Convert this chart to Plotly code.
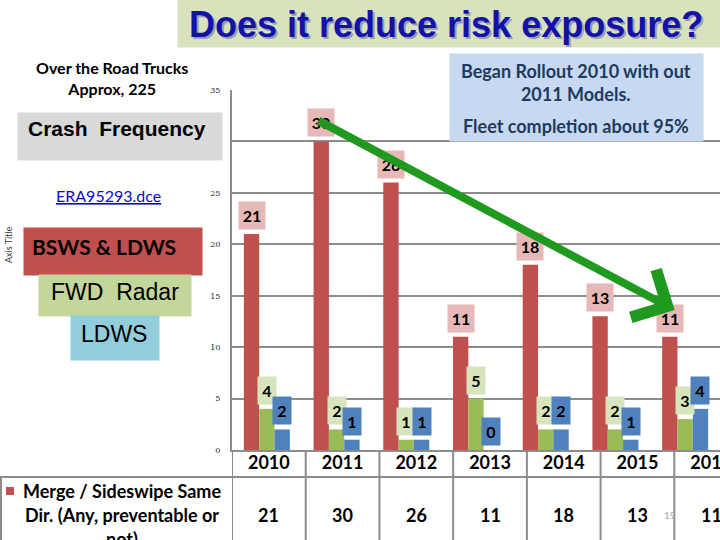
import plotly.graph_objects as go

# ---------------- data ----------------
years = ["2010", "2011", "2012", "2013", "2014", "2015", "2016"]
merge_sideswipe = [21, 30, 26, 11, 18, 13, 11]
fwd_radar = [4, 2, 1, 5, 2, 2, 3]
ldws = [2, 1, 1, 0, 2, 1, 4]
ytick_vals = [0, 5, 10, 15, 20, 25, 30, 35]
row_label_lines = ["Merge / Sideswipe Same", "Dir. (Any, preventable or", "not)"]

# ---------------- style ----------------
RED, GREEN, BLUE = "#c0504d", "#9bbb59", "#4f81bd"
RED_LBL, GREEN_LBL, BLUE_LBL = "#e6b9b8", "#d7e4bd", "#4f81bd"
GRID = "#8c8c8c"
CAL = "Lato, Carlito, sans-serif"
ARIAL = "Liberation Sans, Arial, sans-serif"

L, T, W, H = 232, 90, 488, 360          # plot area in pixels
YMAX = 35
def fx(p):
    return (p - L) / W
def fy(p):
    return (T + H - p) / H

BARGAP = 0.34
bw = (1 - BARGAP) / 3

fig = go.Figure()
series = [
    (merge_sideswipe, RED, RED_LBL, "Merge / Sideswipe Same Dir. (Any, preventable or not)"),
    (fwd_radar, GREEN, GREEN_LBL, "FWD Radar"),
    (ldws, BLUE, BLUE_LBL, "LDWS"),
]
for vals, col, _, name in series:
    fig.add_trace(go.Bar(x=years, y=vals, name=name, marker=dict(color=col, line=dict(width=0)),
                         hoverinfo="x+y"))

# carrier trace for the data-table category axis (invisible)
fig.add_trace(go.Scatter(x=years, y=merge_sideswipe, mode="markers", xaxis="x2", yaxis="y",
                         marker=dict(opacity=0), hoverinfo="skip", showlegend=False))

ann = []
shapes = []

def pa(x, y, text, **kw):
    d = dict(x=fx(x), y=fy(y), xref="paper", yref="paper", xanchor="center", yanchor="middle",
             text=text, showarrow=False)
    d.update(kw)
    ann.append(d)

# value labels with coloured boxes
for s, (vals, col, lbl, name) in enumerate(series):
    off = (s - 1) * bw
    for i, v in enumerate(vals):
        ann.append(dict(x=i + off, y=v, xref="x", yref="y", xanchor="center", yanchor="bottom",
                        yshift=4, text=f"<b>{v}</b>", showarrow=False,
                        font=dict(family=CAL, size=16, color="black"),
                        bgcolor=lbl, width=18 if v < 10 else 26, height=27, borderpad=0))

# big green arrow
ann.append(dict(x=5.85, y=13.6, ax=0.72, ay=32.1, xref="x", yref="y", axref="x", ayref="y",
                text="", showarrow=True, arrowhead=4, arrowsize=1.3, arrowwidth=8,
                arrowcolor="#1f9a1f"))

# ------------- table below the chart -------------
for i in range(-1, 7):
    shapes.append(dict(type="line", xref="x2", yref="paper", x0=i + 0.5, x1=i + 0.5,
                       y0=0, y1=fy(545), line=dict(color=GRID, width=2)))
shapes.append(dict(type="line", xref="paper", yref="paper", x0=fx(0), x1=1,
                   y0=fy(477), y1=fy(477), line=dict(color=GRID, width=2)))
shapes.append(dict(type="line", xref="paper", yref="paper", x0=fx(1), x1=fx(1),
                   y0=fy(477), y1=fy(545), line=dict(color=GRID, width=2)))
shapes.append(dict(type="rect", xref="paper", yref="paper", x0=fx(6), x1=fx(14),
                   y0=fy(487), y1=fy(495), fillcolor=RED, line=dict(width=0)))
for k, line in enumerate(row_label_lines):
    pa(122, 491 + 24 * k, f"<b>{line}</b>", font=dict(family=CAL, size=18, color="black"))
for i, v in enumerate(merge_sideswipe):
    ann.append(dict(x=i, y=fy(515), xref="x2", yref="paper", xanchor="center",
                    yanchor="middle", text=f"<b>{v}</b>", showarrow=False,
                    font=dict(family=CAL, size=18, color="black")))
pa(670, 515, "19", font=dict(family=CAL, size=10, color="#a6a6a6"))

# ------------- title -------------
pa(449, 23.5, " ", bgcolor="#d8e3bd", width=542, height=47, borderpad=0)
pa(446, 24, "<b>Does it reduce risk exposure?</b>", xshift=2, yshift=-2,
   font=dict(family=ARIAL, size=36, color="#9a9ab8"))
pa(446, 24, "<b>Does it reduce risk exposure?</b>",
   font=dict(family=ARIAL, size=36, color="#1212a8"))

# ------------- left side boxes -------------
pa(112, 78, "<b>Over the Road Trucks</b><br><b>Approx, 225</b>",
   font=dict(family=CAL, size=16, color="black"))
pa(120, 136.5, " ", bgcolor="#d9d9d9", width=204, height=47, borderpad=0)
pa(117, 129, "<b>Crash  Frequency</b>", font=dict(family=ARIAL, size=21, color="black"))
pa(108, 195, "<u>ERA95293.dce</u>", font=dict(family=CAL, size=16, color="#0a0acc"))
pa(113, 251.5, " ", bgcolor=RED, width=178, height=47, borderpad=0)
pa(104, 246, "<b>BSWS & LDWS</b>", font=dict(family=CAL, size=21, color="black"))
pa(115, 295.5, " ", bgcolor="#c3d69b", width=152, height=41, borderpad=0)
pa(115, 292, "FWD  Radar", font=dict(family=ARIAL, size=23, color="black"))
pa(115, 338, " ", bgcolor="#92cddc", width=88, height=44, borderpad=0)
pa(114, 334, "LDWS", font=dict(family=ARIAL, size=23, color="black"))
pa(8, 245, "Axis Title", textangle=-90, font=dict(family=CAL, size=9, color="#333333"))

# ------------- info box -------------
pa(576.5, 97.5, " ", bgcolor="#c6d9f0", width=253, height=87, borderpad=0)
pa(576, 82, "<b>Began Rollout 2010 with out</b><br><b>2011 Models.</b>",
   font=dict(family=CAL, size=18, color="#1f3a60"))
pa(576, 126, "<b>Fleet completion about 95%</b>", font=dict(family=CAL, size=18, color="#1f3a60"))

fig.update_layout(
    width=720, height=540,
    margin=dict(l=L, r=720 - L - W, t=T, b=540 - T - H, pad=0, autoexpand=False),
    paper_bgcolor="white", plot_bgcolor="white",
    barmode="group", bargap=BARGAP, bargroupgap=0,
    showlegend=False,
    annotations=ann, shapes=shapes,
    xaxis=dict(type="category", categoryarray=years, range=[-0.5, 6.5], showgrid=False,
               showline=True, linecolor=GRID, linewidth=2, ticks="", showticklabels=False,
               fixedrange=True, automargin=False),
    xaxis2=dict(type="category", categoryarray=years, overlaying="x", anchor="y", side="bottom",
                range=[-0.5, 6.12], showgrid=False, showline=False, ticks="", fixedrange=True,
                automargin=False,
                tickfont=dict(family=CAL, size=18, color="black"),
                tickvals=years, ticktext=[f"<b>{y}</b>" for y in years]),
    yaxis=dict(range=[0, YMAX], tickvals=ytick_vals, showgrid=True, gridcolor=GRID, gridwidth=2,
               zeroline=False, showline=True, linecolor=GRID, linewidth=2, ticks="",
               ticklabelstandoff=8, fixedrange=True, automargin=False,
               tickfont=dict(family="DejaVu Serif, serif", size=8, color="#222222")),
)

fig.write_html("out.html", config={"displayModeBar": False},
               post_script="document.body.style.margin='0';"
                           "document.body.style.overflow='hidden';"
                           "document.documentElement.style.overflow='hidden';")
